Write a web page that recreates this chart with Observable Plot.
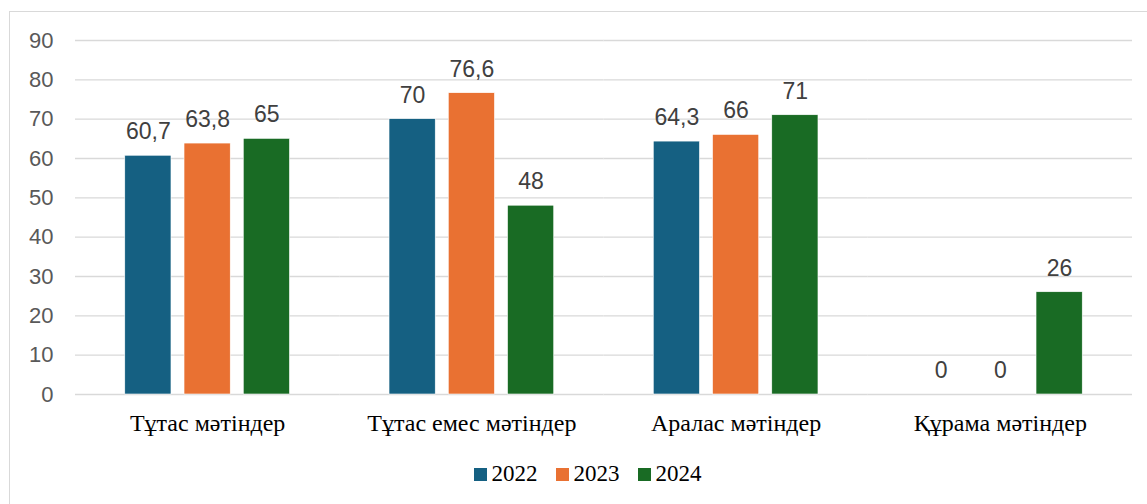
<!DOCTYPE html>
<html><head><meta charset="utf-8">
<script src="https://cdn.jsdelivr.net/npm/d3@7"></script>
<script src="https://cdn.jsdelivr.net/npm/@observablehq/plot@0.6"></script>
<style>
body{margin:0;background:#fff;width:1147px;height:504px;overflow:hidden;position:relative;}
#frame{position:absolute;left:9px;top:11px;width:1200px;height:600px;border:1px solid #d9d9d9;box-sizing:border-box;pointer-events:none;}
#chart{position:absolute;left:0;top:0;}
#legend{position:absolute;top:461px;left:14px;width:1147px;display:flex;justify-content:center;align-items:center;font-family:"Liberation Serif","Times New Roman",serif;font-size:23px;color:#000;}
#legend .item{display:flex;align-items:center;margin:0 9px;}
#legend .sw{width:13px;height:13px;margin-right:5px;}
</style></head>
<body>
<div id="frame"></div>
<div id="chart"></div>
<div id="legend"></div>
<script>
const categories = ["Тұтас мәтіндер", "Тұтас емес мәтіндер", "Аралас мәтіндер", "Құрама мәтіндер"];
const years = ["2022", "2023", "2024"];
const values2022 = [60.7, 70, 64.3, 0];
const values2023 = [63.8, 76.6, 66, 0];
const values2024 = [65, 48, 71, 26];
const colors = ["#156082", "#E97132", "#196B24"];
const yTicks = [0, 10, 20, 30, 40, 50, 60, 70, 80, 90];

const series = [values2022, values2023, values2024];
const data = [];
categories.forEach((c, i) => years.forEach((y, j) => data.push({category: c, year: y, value: series[j][i]})));
const fmt = v => String(v).replace(".", ",");

const plot = Plot.plot({
  width: 1147, height: 445,
  marginLeft: 75, marginRight: 15, marginTop: 40, marginBottom: 51,
  style: {background: "transparent", fontFamily: "Liberation Sans, Arial, sans-serif"},
  fx: {domain: categories, padding: 0, label: null, round: false},
  x: {domain: years, axis: null, paddingInner: 0.22, paddingOuter: 0.84, round: false},
  y: {domain: [0, 90], label: null},
  color: {domain: years, range: colors},
  marks: [
    Plot.gridY(yTicks, {stroke: "#d9d9d9", strokeOpacity: 1, strokeWidth: 1.3}),
    Plot.axisY(yTicks, {tickSize: 0, tickPadding: 22, fontSize: 22, fill: "#595959", label: null}),
    Plot.axisFx({anchor: "bottom", tickSize: 0, tickPadding: 19, fontSize: 24, fontFamily: "Liberation Serif, Times New Roman, serif", fill: "#000", label: null}),
    Plot.barY(data, {fx: "category", x: "year", y: "value", fill: "year", stroke: "#ffffff", strokeWidth: 0.6}),
    Plot.text(data, {fx: "category", x: "year", y: "value", text: d => fmt(d.value), dy: -24, fontSize: 23, fill: "#404040"})
  ]
});
document.getElementById("chart").appendChild(plot);

const legend = document.getElementById("legend");
years.forEach((y, i) => {
  const item = document.createElement("div");
  item.className = "item";
  const sw = document.createElement("div");
  sw.className = "sw";
  sw.style.background = colors[i];
  const t = document.createElement("span");
  t.textContent = y;
  item.appendChild(sw);
  item.appendChild(t);
  legend.appendChild(item);
});
</script>
</body></html>
